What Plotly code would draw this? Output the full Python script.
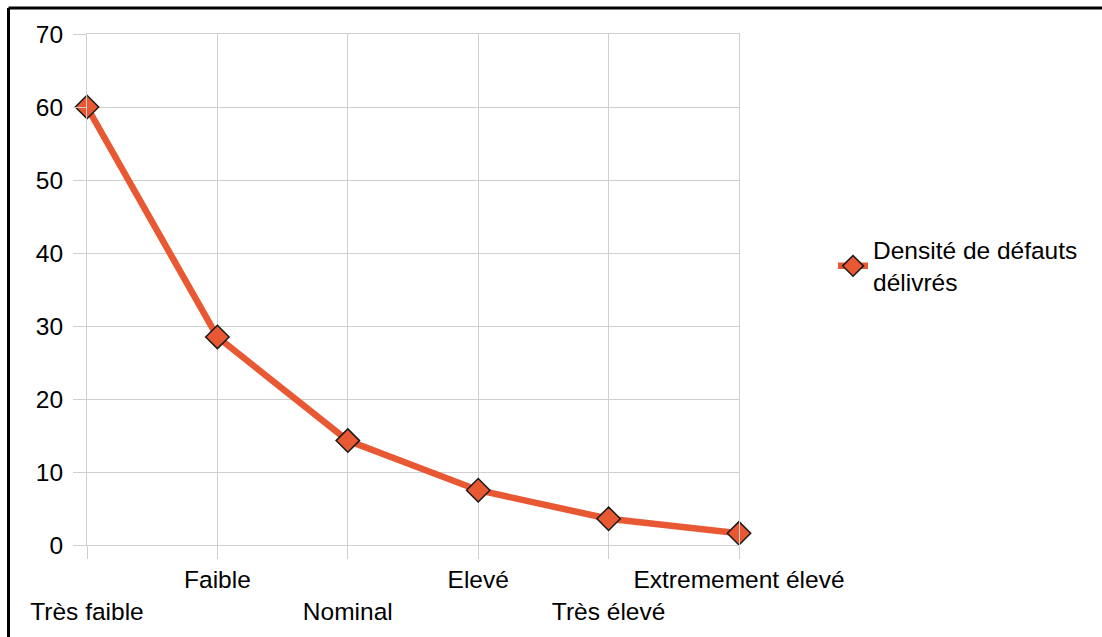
import plotly.graph_objects as go

# Defect density delivered, by capability level
categories = ["Très faible", "Faible", "Nominal", "Elevé", "Très élevé", "Extremement élevé"]
densite = [60, 28.5, 14.3, 7.5, 3.6, 1.6]
y_ticks = [0, 10, 20, 30, 40, 50, 60, 70]
series_name = "Densité de défauts<br>délivrés"

# Alternate label rows so long labels do not overlap
tick_text = [("<br>" + c) if i % 2 == 0 else c for i, c in enumerate(categories)]

ORANGE = "#E85833"
GRID = "#cfcfcf"
FONT = "Liberation Sans, Arial, sans-serif"
FS = 24.5

W, H = 1102, 637
L, R, T, B = 87, 363, 34, 92
pw, ph = W - L - R, H - T - B


def px_to_paper_x(px):
    return (px - L) / pw


def px_to_paper_y(py):
    return (H - B - py) / ph


fig = go.Figure()
fig.add_trace(go.Scatter(
    x=list(range(len(categories))),
    y=densite,
    mode="lines+markers",
    name=series_name,
    line=dict(color=ORANGE, width=6.5),
    marker=dict(symbol="diamond", size=18, color=ORANGE,
                line=dict(color="#1a1a1a", width=1.5)),
    cliponaxis=False,
    showlegend=True,
))

fig.update_layout(
    width=W, height=H,
    margin=dict(l=L, r=R, t=T, b=B),
    paper_bgcolor="white",
    plot_bgcolor="white",
    font=dict(family=FONT, size=FS, color="black"),
    xaxis=dict(
        range=[0, len(categories) - 1],
        tickmode="array",
        tickvals=list(range(len(categories))),
        ticktext=tick_text,
        tickangle=0,
        automargin=False,
        showgrid=True, gridcolor=GRID, gridwidth=1,
        showline=True, linecolor=GRID, linewidth=1, mirror=True,
        ticks="outside", ticklen=13, tickcolor=GRID, tickwidth=1,
        zeroline=False,
        tickfont=dict(size=FS),
    ),
    yaxis=dict(
        range=[0, 70],
        tickmode="array",
        tickvals=y_ticks,
        automargin=False,
        showgrid=True, gridcolor=GRID, gridwidth=1,
        showline=True, linecolor=GRID, linewidth=1, mirror=True,
        ticks="outside", ticklen=13, tickcolor=GRID, tickwidth=1,
        ticklabelstandoff=5,
        zeroline=False,
        tickfont=dict(size=FS),
    ),
    legend=dict(
        x=px_to_paper_x(833), y=px_to_paper_y(266),
        xanchor="left", yanchor="middle",
        font=dict(size=FS),
        bgcolor="rgba(0,0,0,0)",
    ),
    shapes=[
        dict(type="line", xref="paper", yref="paper",
             x0=px_to_paper_x(8.5), x1=px_to_paper_x(W + 5),
             y0=px_to_paper_y(8), y1=px_to_paper_y(8),
             line=dict(color="black", width=3)),
        dict(type="line", xref="paper", yref="paper",
             x0=px_to_paper_x(8.5), x1=px_to_paper_x(8.5),
             y0=px_to_paper_y(8), y1=px_to_paper_y(H + 5),
             line=dict(color="black", width=3)),
    ],
)

fig.write_html("out.html")
